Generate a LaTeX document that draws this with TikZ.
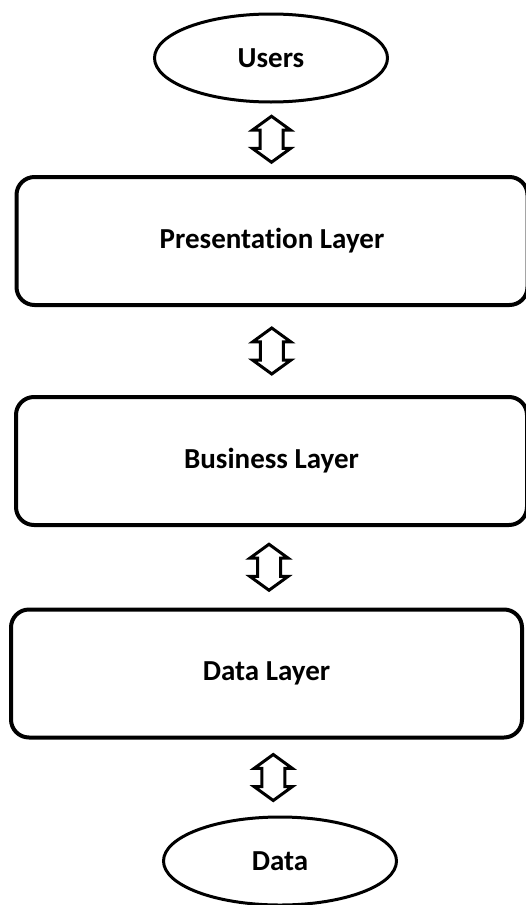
\documentclass[tikz,border=0pt]{standalone}
\usepackage{fontspec}
\setmainfont{Carlito}[Ligatures={NoCommon}]
\usetikzlibrary{shapes.geometric,shapes.arrows,positioning,calc}

\begin{document}
\begin{tikzpicture}[x=1pt, y=-1pt,
    label font/.style={font=\fontsize{29}{35}\selectfont\bfseries},
    layer/.style={draw, line width=4pt, rounded corners=18pt, label font,
      minimum width=511pt, minimum height=128pt},
    endpoint/.style={draw, ellipse, line width=3pt, label font,
      minimum width=233pt, minimum height=88pt},
    link/.style={draw, double arrow, line width=3pt, rotate=90, inner sep=10pt,
      double arrow head extend=7.5pt, double arrow tip angle=108, minimum height=46pt}]
        \useasboundingbox (0,0) rectangle (525,905);

        % Ends
        \node[endpoint] (users) at (271,58) {Users};
        \node[endpoint] (data) at (280,861) {Data};

        % Layers
        \node[layer] (pres) at (272,241) {Presentation Layer};
        \node[layer] (busi) at (271.5,461) {Business Layer};
        \node[layer] (dlay) at (266.5,673.5) {Data Layer};

        % Two-way arrows between them
        \node[link] (a1) at ($(users.south)!0.5!(pres.north)$) {};
        \node[link] (a2) at ($(pres.south)!0.5!(busi.north)$) {};
        \node[link] (a3) at ($(busi.south)!0.5!(dlay.north)$) {};
        \node[link] (a4) at ($(dlay.south)!0.5!(data.north)$) {};
      \end{tikzpicture}
\end{document}
